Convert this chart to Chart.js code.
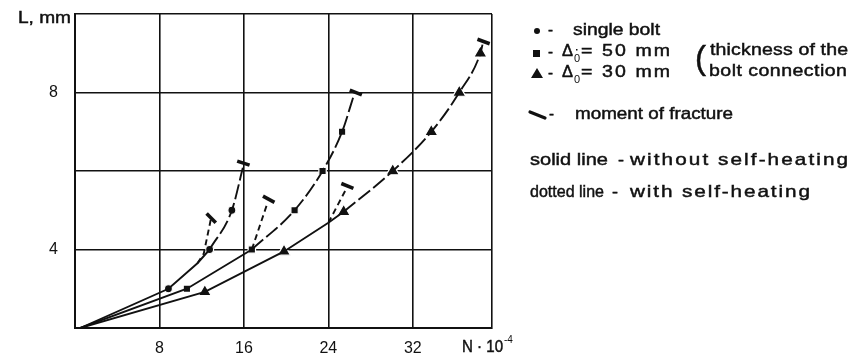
<!DOCTYPE html>
<html>
<head>
<meta charset="utf-8">
<script src="https://cdn.jsdelivr.net/npm/chart.js@4.4.1/dist/chart.umd.min.js"></script>
<style>
  html, body { margin: 0; padding: 0; background: #fff; }
  #wrap { width: 849px; height: 357px; position: relative; }
</style>
</head>
<body>
<div id="wrap"><canvas id="chart" width="849" height="357"></canvas></div>
<script>
// AXIS TICKS
const xTickValues = [8, 16, 24, 32];
const yTickValues = [4, 8];

// MARKERS (N*10^-4, L mm)
const singleBoltX = [8.85, 12.75, 14.86];
const singleBoltY = [3.0, 4.0, 5.0];
const delta50X = [10.6, 16.75, 20.8, 23.45, 25.3];
const delta50Y = [3.0, 4.0, 5.0, 6.0, 7.0];
const delta30X = [12.3, 19.8, 25.45, 30.1, 33.75, 36.4, 38.4];
const delta30Y = [2.92, 3.95, 4.96, 6.0, 7.0, 8.0, 9.0];

// MOMENT OF FRACTURE
const fractureX = [15.95, 12.9, 26.6, 18.35, 38.7, 25.8];
const fractureY = [6.2, 4.8, 8.0, 5.28, 9.3, 5.62];
const fractureTilt = [18, 45, 22, 28, 20, 22];

// CURVES - solid part (without self-heating)
const singleSolidX = [0.5, 8.85, 11.6, 12.75];
const singleSolidY = [2, 3.0, 3.65, 4.0];
const delta50SolidX = [0.5, 10.6, 16.75];
const delta50SolidY = [2, 3.0, 4.0];
const delta30SolidX = [0.5, 12.3, 19.8, 24.0, 25.45];
const delta30SolidY = [2, 2.92, 3.95, 4.68, 4.96];

// CURVES - dashed continuation up to fracture
const singleDashX = [12.75, 14.86, 15.9];
const singleDashY = [4.0, 5.0, 6.08];
const delta50DashX = [16.75, 20.8, 23.45, 25.3, 26.4];
const delta50DashY = [4.0, 5.0, 6.0, 7.0, 7.92];
const delta30DashX = [25.45, 30.1, 33.75, 36.4, 38.4, 38.6];
const delta30DashY = [4.96, 6.0, 7.0, 8.0, 9.0, 9.22];

// CURVES - with self-heating branches
const singleHeatX = [11.6, 12.2, 12.85];
const singleHeatY = [3.65, 3.9, 4.75];
const delta50HeatX = [16.75, 18.25];
const delta50HeatY = [4.0, 5.2];
const delta30HeatX = [24.0, 25.7];
const delta30HeatY = [4.68, 5.55];

const INK = '#111';
const FONT = "'Liberation Sans', Arial, sans-serif";

function pts(xs, ys) {
    return xs.map((x, i) => ({ x: x, y: ys[i] }));
}

function lineSet(xs, ys, dash, smooth) {
    return {
        type: 'line', data: pts(xs, ys), showLine: true,
        borderColor: INK, borderWidth: 1.9, borderDash: dash,
        pointRadius: 0, fill: false,
        cubicInterpolationMode: smooth ? 'monotone' : 'default', tension: smooth ? 0.4 : 0
    };
}

function markerSet(xs, ys, style, r) {
    return {
        type: 'scatter', data: pts(xs, ys), showLine: false,
        pointStyle: style, pointRadius: r,
        pointBackgroundColor: INK, pointBorderColor: '#fff', pointBorderWidth: 1.2
    };
}

// the print uses a wide face: stretch glyphs a little, spread the rest
function fitText(ctx, str, x, y, w) {
    ctx.save();
    ctx.lineWidth = 0.45;
    const m = ctx.measureText(str).width;
    let sx = w / m;
    if (sx > 1.22 && 'letterSpacing' in ctx && str.length > 1) {
        sx = 1.22;
        ctx.letterSpacing = ((w / sx - m) / (str.length - 1)).toFixed(2) + 'px';
    }
    ctx.translate(x, y);
    ctx.scale(sx, 1);
    ctx.fillText(str, 0, 0);
    ctx.strokeText(str, 0, 0);
    ctx.restore();
}

const labelsPlugin = {
    id: 'labels',
    afterDraw(chart) {
        const ctx = chart.ctx;
        ctx.save();
        ctx.fillStyle = INK;
        ctx.strokeStyle = INK;
        ctx.textBaseline = 'middle';
        ctx.textAlign = 'left';

        // axis titles
        ctx.font = '16px ' + FONT;
        fitText(ctx, 'L, mm', 18, 19, 53);
        fitText(ctx, 'N · 10', 462, 348, 41);
        ctx.font = '10px ' + FONT;
        ctx.fillText('-4', 504, 340);

        // LEGEND
        ctx.font = '16px ' + FONT;
        ctx.beginPath(); ctx.arc(537, 31, 3, 0, Math.PI * 2); ctx.fill();
        ctx.fillRect(533, 50, 7, 7);
        ctx.beginPath(); ctx.moveTo(537, 68); ctx.lineTo(543, 78); ctx.lineTo(531, 78); ctx.closePath(); ctx.fill();
        [31, 53, 74].forEach(y => fitText(ctx, '-', 548, y, 5));
        fitText(ctx, 'single bolt', 573, 31, 87);
        fitText(ctx, 'Δ', 562, 52, 11);
        fitText(ctx, 'Δ', 562, 73, 11);
        fitText(ctx, '= 50 mm', 581, 52, 89);
        fitText(ctx, '= 30 mm', 581, 73, 89);
        ctx.font = '11px ' + FONT;
        ctx.fillText('0', 574, 59);
        ctx.fillText('0', 574, 80);
        ctx.fillRect(576, 49, 1.5, 1.5);
        ctx.font = '16px ' + FONT;
        fitText(ctx, 'thickness of the', 710, 51, 138);
        fitText(ctx, 'bolt connection', 709, 72, 138);
        ctx.font = '34px ' + FONT;
        fitText(ctx, '(', 695, 60, 11);

        // fracture symbol
        ctx.lineWidth = 3.2;
        ctx.lineCap = 'round';
        ctx.beginPath(); ctx.moveTo(530, 112); ctx.lineTo(545, 118); ctx.stroke();
        ctx.font = '16px ' + FONT;
        fitText(ctx, '-', 549, 115, 5);
        fitText(ctx, 'moment of fracture', 575, 115, 158);

        ctx.font = '17px ' + FONT;
        fitText(ctx, 'solid line', 530, 160, 78);
        fitText(ctx, '-', 618, 160, 6);
        fitText(ctx, 'without self-heating', 630, 160, 218);
        fitText(ctx, 'dotted line', 530, 192, 74);
        fitText(ctx, '-', 612, 192, 6);
        fitText(ctx, 'with self-heating', 630, 192, 180);
        ctx.restore();
    }
};

window.onload = function() {
    const LONG = [15, 4];
    const SHORT = [6, 4];
    const datasets = [
        lineSet(singleSolidX, singleSolidY, [], false),
        lineSet(delta50SolidX, delta50SolidY, [], false),
        lineSet(delta30SolidX, delta30SolidY, [], false),
        lineSet(singleDashX, singleDashY, LONG, true),
        lineSet(delta50DashX, delta50DashY, LONG, true),
        lineSet(delta30DashX, delta30DashY, LONG, true),
        lineSet(singleHeatX, singleHeatY, SHORT, false),
        lineSet(delta50HeatX, delta50HeatY, SHORT, false),
        lineSet(delta30HeatX, delta30HeatY, SHORT, false),
        markerSet(singleBoltX, singleBoltY, 'circle', 4),
        markerSet(delta50X, delta50Y, 'rect', 5.2),
        markerSet(delta30X, delta30Y, 'triangle', 7.5),
        {
            type: 'scatter', data: pts(fractureX, fractureY), showLine: false,
            pointStyle: 'line', pointRadius: 6.5, pointRotation: fractureTilt,
            pointBorderColor: INK, pointBorderWidth: 3.6
        }
    ];

    new Chart(document.getElementById('chart'), {
        type: 'scatter',
        data: { datasets: datasets },
        plugins: [labelsPlugin],
        options: {
            responsive: false, animation: false,
            layout: { padding: { left: 0, top: 14, right: 357, bottom: 0 } },
            plugins: { legend: { display: false }, tooltip: { enabled: false } },
            scales: {
                x: {
                    type: 'linear', min: 0, max: 39.5,
                    afterBuildTicks: s => { s.ticks = [0, 8, 16, 24, 32, 39.5].map(v => ({ value: v })); },
                    afterFit: s => { s.height = 29; s.paddingLeft = 0; s.paddingRight = 0; },
                    ticks: {
                        padding: 11, color: INK, font: { family: FONT, size: 16 },
                        callback: v => xTickValues.includes(v) ? String(v) : ''
                    },
                    grid: { color: INK, lineWidth: 1.6, drawTicks: false },
                    border: { color: INK, width: 2 }
                },
                y: {
                    type: 'linear', min: 2, max: 10,
                    afterBuildTicks: s => { s.ticks = [2, 4, 6, 8, 10].map(v => ({ value: v })); },
                    afterFit: s => { s.width = 75; s.paddingTop = 0; s.paddingBottom = 0; },
                    ticks: {
                        padding: 17, color: INK, font: { family: FONT, size: 16 },
                        callback: v => yTickValues.includes(v) ? String(v) : ''
                    },
                    grid: { color: INK, lineWidth: 1.6, drawTicks: false },
                    border: { color: INK, width: 2 }
                }
            }
        }
    });
};
</script>
</body>
</html>
